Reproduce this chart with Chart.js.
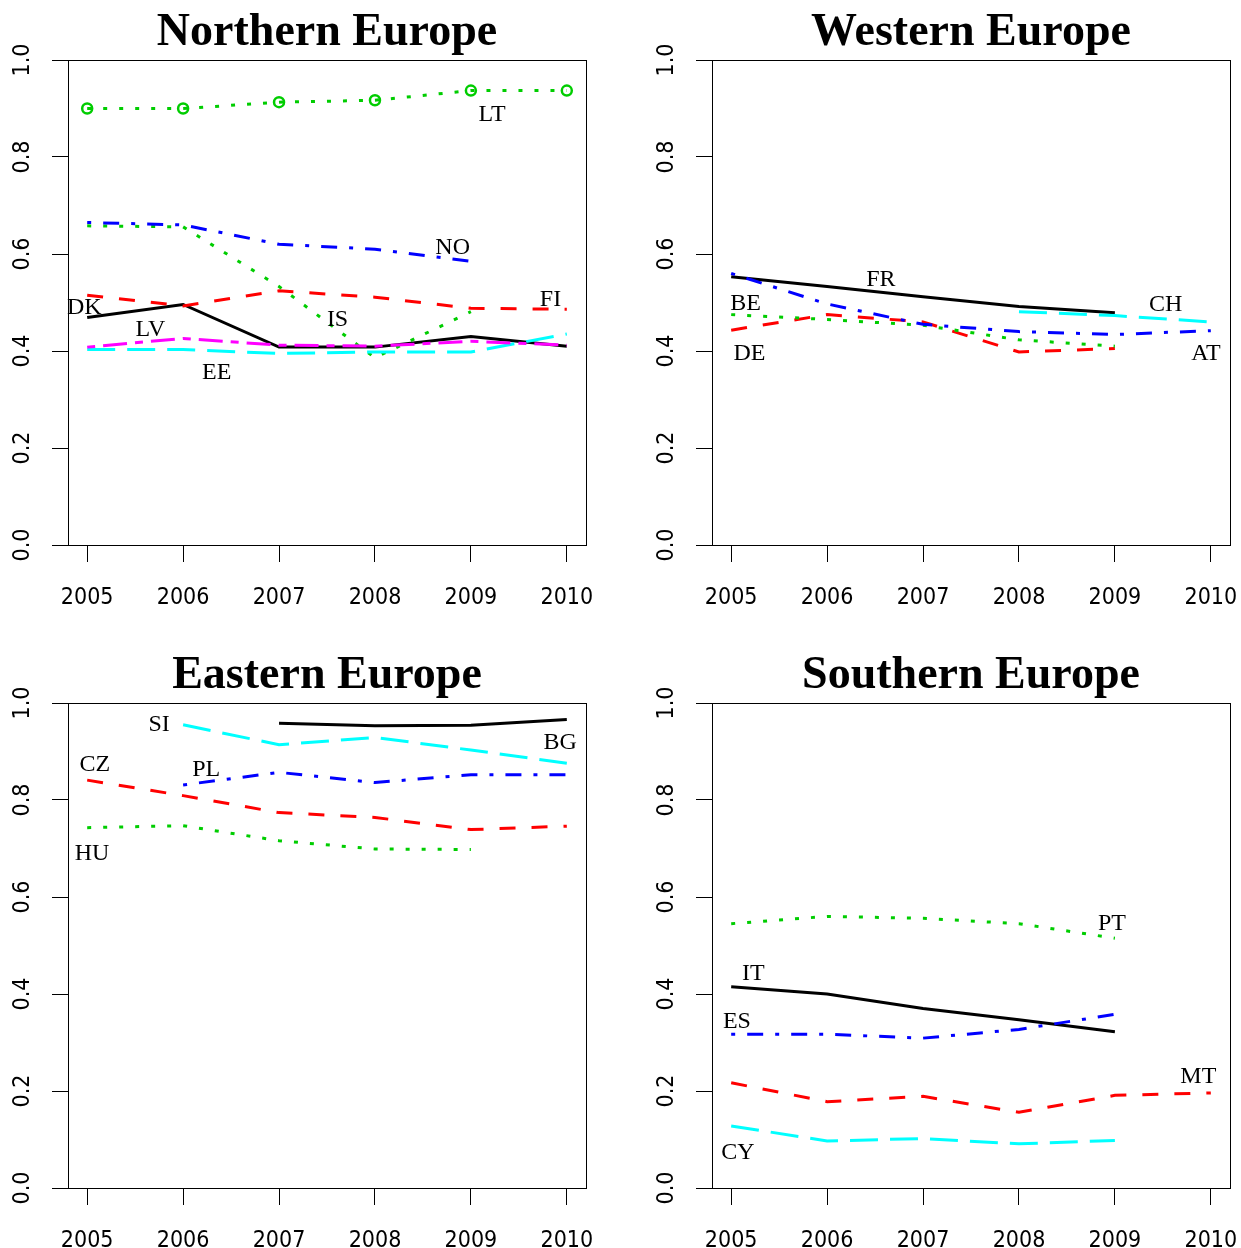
<!DOCTYPE html>
<html>
<head>
<meta charset="utf-8">
<script src="https://cdn.jsdelivr.net/npm/chart.js@4/dist/chart.umd.min.js"></script>
<style>
  html, body { margin: 0; padding: 0; background: #fff; overflow: hidden; width: 1241px; height: 1248px; }
  .panel { position: absolute; width: 620px; height: 624px; }
</style>
</head>
<body>
<div class="panel" style="left:0;top:0"><canvas id="north" width="620" height="624"></canvas></div>
<div class="panel" style="left:644px;top:0"><canvas id="west" width="620" height="624"></canvas></div>
<div class="panel" style="left:0;top:643px"><canvas id="east" width="620" height="624"></canvas></div>
<div class="panel" style="left:644px;top:643px"><canvas id="south" width="620" height="624"></canvas></div>
<script>
// Shared axes
const years = [2005, 2006, 2007, 2008, 2009, 2010];
const yTicks = [0, 0.2, 0.4, 0.6, 0.8, 1.0];
const yTickLabels = ['0.0', '0.2', '0.4', '0.6', '0.8', '1.0'];

// Northern Europe
const DK = [0.469, 0.496, 0.408, 0.408, 0.430, 0.410];
const FI = [0.515, 0.493, 0.524, 0.511, 0.488, 0.486];
const IS = [0.658, 0.656, 0.533, 0.386, 0.481, null];
const NO = [0.665, 0.660, 0.620, 0.610, 0.585, null];
const EE = [0.403, 0.403, 0.395, 0.398, 0.398, 0.435];
const LV = [0.408, 0.426, 0.412, 0.410, 0.420, 0.412];
const LT = [0.900, 0.900, 0.913, 0.917, 0.937, 0.937];

// Western Europe
const FR = [0.553, 0.533, 0.512, 0.492, 0.479, null];
const DE = [0.443, 0.475, 0.460, 0.398, 0.405, null];
const BE = [0.475, 0.465, 0.453, 0.423, 0.410, null];
const AT = [0.560, 0.497, 0.455, 0.440, 0.434, 0.442];
const CH = [null, null, null, 0.481, 0.473, 0.460];

// Eastern Europe
const BG = [null, null, 0.958, 0.953, 0.954, 0.966];
const CZ = [0.841, 0.809, 0.774, 0.764, 0.739, 0.746];
const HU = [0.743, 0.747, 0.716, 0.699, 0.698, null];
const PL = [null, 0.831, 0.857, 0.836, 0.852, 0.852];
const SI = [null, 0.955, 0.914, 0.929, 0.903, 0.876];

// Southern Europe
const IT = [0.415, 0.400, 0.370, 0.347, 0.322, null];
const MT = [0.217, 0.178, 0.189, 0.156, 0.191, 0.196];
const PT = [0.545, 0.560, 0.556, 0.545, 0.515, null];
const ES = [0.317, 0.317, 0.309, 0.327, 0.358, null];
const CY = [0.128, 0.097, 0.102, 0.091, 0.098, null];

// Line styles (colour + dash pattern)
const COL = { black: '#000000', red: '#FF0000', green: '#00CD00', blue: '#0000FF', cyan: '#00FFFF', magenta: '#FF00FF' };
const DASH = { solid: [], dashed: [16, 16], dotted: [4, 12], dotdash: [4, 12, 16, 12], longdash: [28, 12], twodash: [8, 8, 24, 8] };

const TICK_FONT = '"Liberation Sans Narrow", "DejaVu Sans Condensed", "Liberation Sans", sans-serif';
const SERIF = '"Liberation Serif", "DejaVu Serif", serif';

function series(name, values, color, dash, extra) {
  return Object.assign({
    label: name,
    data: years.map((yr, i) => ({ x: yr, y: values[i] })),
    borderColor: color,
    borderWidth: 3,
    borderDash: dash,
    borderCapStyle: 'butt',
    borderJoinStyle: 'miter',
    pointRadius: 0,
    fill: false,
    tension: 0,
    spanGaps: false
  }, extra || {});
}

// Frame, rotated y labels, panel title and country tags
const panelDecor = {
  id: 'panelDecor',
  afterDraw(chart, args, opts) {
    const { ctx, chartArea: a, scales } = chart;
    ctx.save();
    ctx.strokeStyle = '#000';
    ctx.lineWidth = 1;
    ctx.strokeRect(a.left + 0.5, a.top + 0.5, a.right - a.left, a.bottom - a.top);

    ctx.fillStyle = '#000';
    ctx.textAlign = 'center';
    ctx.textBaseline = 'middle';
    ctx.font = '23px ' + TICK_FONT;
    yTicks.forEach((v, i) => {
      ctx.save();
      ctx.translate(a.left - 45, scales.y.getPixelForValue(v));
      ctx.rotate(-Math.PI / 2);
      ctx.fillText(yTickLabels[i], 0, 0);
      ctx.restore();
    });

    ctx.font = 'bold 46px ' + SERIF;
    ctx.fillText(opts.title, (a.left + a.right) / 2, a.top - 27);

    ctx.font = '24px ' + SERIF;
    opts.tags.forEach(t => {
      ctx.fillText(t.text, scales.x.getPixelForValue(t.x), scales.y.getPixelForValue(t.y) + 2);
    });
    ctx.restore();
  }
};

function makePanel(id, title, datasets, tags) {
  new Chart(document.getElementById(id), {
    type: 'line',
    data: { datasets: datasets.slice().reverse() },
    options: {
      responsive: false,
      animation: false,
      devicePixelRatio: 1,
      layout: { padding: { top: 60, right: 34, left: 0, bottom: 0 } },
      plugins: {
        legend: { display: false },
        tooltip: { enabled: false },
        panelDecor: { title, tags }
      },
      scales: {
        x: {
          type: 'linear',
          min: 2004.8,
          max: 2010.2,
          afterBuildTicks: s => { s.ticks = years.map(v => ({ value: v })); },
          afterFit: s => { s.height = 79; },
          grid: { drawOnChartArea: false, drawTicks: true, tickLength: 17, color: '#000', lineWidth: 1 },
          border: { display: false },
          ticks: {
            color: '#000',
            font: { family: TICK_FONT, size: 23 },
            padding: 22,
            maxRotation: 0,
            autoSkip: false,
            callback: v => String(v)
          }
        },
        y: {
          min: 0,
          max: 1,
          afterBuildTicks: s => { s.ticks = yTicks.map(v => ({ value: v })); },
          afterFit: s => { s.width = 68; },
          grid: { drawOnChartArea: false, drawTicks: true, tickLength: 16, color: '#000', lineWidth: 1 },
          border: { display: false },
          ticks: { display: false }
        }
      }
    },
    plugins: [panelDecor]
  });
}

makePanel('north', 'Northern Europe', [
  series('DK', DK, COL.black, DASH.solid),
  series('FI', FI, COL.red, DASH.dashed),
  series('IS', IS, COL.green, DASH.dotted),
  series('NO', NO, COL.blue, DASH.dotdash),
  series('EE', EE, COL.cyan, DASH.longdash),
  series('LV', LV, COL.magenta, DASH.twodash),
  series('LT', LT, COL.green, DASH.dotted, {
    pointRadius: 5, pointStyle: 'circle', pointBorderWidth: 2.5,
    pointBorderColor: COL.green, pointBackgroundColor: 'rgba(0,0,0,0)'
  })
], [
  { text: 'LT', x: 2009.22, y: 0.892 },
  { text: 'NO', x: 2008.81, y: 0.618 },
  { text: 'FI', x: 2009.83, y: 0.509 },
  { text: 'DK', x: 2004.97, y: 0.493 },
  { text: 'LV', x: 2005.66, y: 0.449 },
  { text: 'IS', x: 2007.61, y: 0.469 },
  { text: 'EE', x: 2006.35, y: 0.360 }
]);

makePanel('west', 'Western Europe', [
  series('FR', FR, COL.black, DASH.solid),
  series('DE', DE, COL.red, DASH.dashed),
  series('BE', BE, COL.green, DASH.dotted),
  series('AT', AT, COL.blue, DASH.dotdash),
  series('CH', CH, COL.cyan, DASH.longdash)
], [
  { text: 'FR', x: 2006.56, y: 0.551 },
  { text: 'BE', x: 2005.15, y: 0.501 },
  { text: 'DE', x: 2005.19, y: 0.398 },
  { text: 'CH', x: 2009.53, y: 0.499 },
  { text: 'AT', x: 2009.95, y: 0.398 }
]);

makePanel('east', 'Eastern Europe', [
  series('BG', BG, COL.black, DASH.solid),
  series('CZ', CZ, COL.red, DASH.dashed),
  series('HU', HU, COL.green, DASH.dotted),
  series('PL', PL, COL.blue, DASH.dotdash),
  series('SI', SI, COL.cyan, DASH.longdash)
], [
  { text: 'SI', x: 2005.75, y: 0.959 },
  { text: 'BG', x: 2009.93, y: 0.922 },
  { text: 'CZ', x: 2005.08, y: 0.877 },
  { text: 'PL', x: 2006.24, y: 0.866 },
  { text: 'HU', x: 2005.05, y: 0.693 }
]);

makePanel('south', 'Southern Europe', [
  series('IT', IT, COL.black, DASH.solid),
  series('MT', MT, COL.red, DASH.dashed),
  series('PT', PT, COL.green, DASH.dotted),
  series('ES', ES, COL.blue, DASH.dotdash),
  series('CY', CY, COL.cyan, DASH.longdash)
], [
  { text: 'PT', x: 2008.97, y: 0.549 },
  { text: 'IT', x: 2005.23, y: 0.447 },
  { text: 'ES', x: 2005.06, y: 0.348 },
  { text: 'MT', x: 2009.87, y: 0.233 },
  { text: 'CY', x: 2005.07, y: 0.076 }
]);
</script>
</body>
</html>
